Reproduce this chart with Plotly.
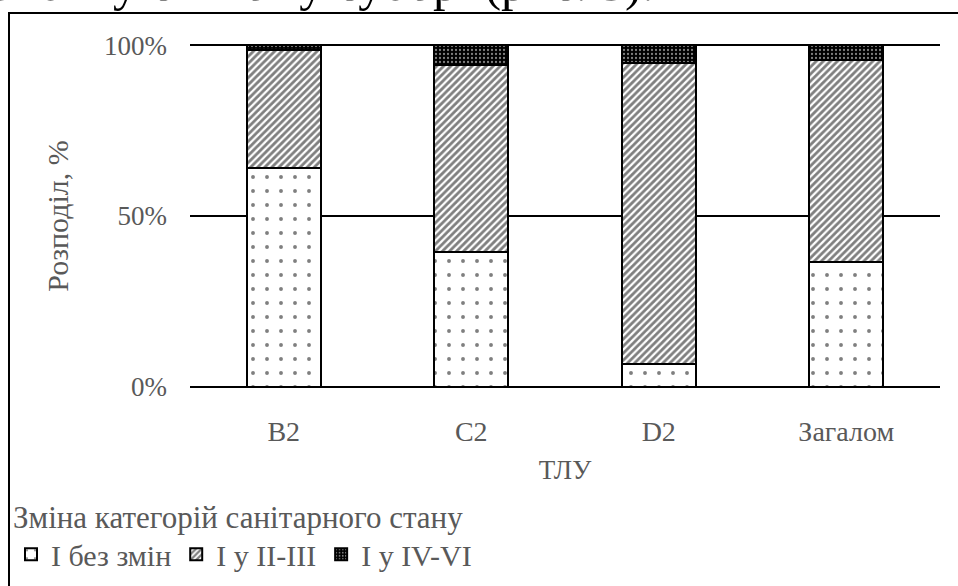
import plotly.graph_objects as go

categories = ["B2", "C2", "D2", "Загалом"]
no_change = [0.642, 0.395, 0.067, 0.366]
to_2_3 = [0.343, 0.547, 0.881, 0.590]
to_4_6 = [0.015, 0.058, 0.052, 0.044]
series_names = ["I без змін", "I у II-III", "I у IV-VI"]

L, R, T, B = 190, 18, 44, 198
W, H = 958, 586
pw, ph = W - L - R, H - T - B

def px_x(x):
    return (x - L) / pw

def px_y(y):
    return (H - B - y) / ph

serif = "Liberation Serif"
gray = "#595959"

fig = go.Figure()
fig.add_bar(x=categories, y=no_change, name=series_names[0],
            marker=dict(color="white", line=dict(color="black", width=2),
                        pattern=dict(shape=".", fgcolor="black", bgcolor="white",
                                     size=14, solidity=0.06)))
fig.add_bar(x=categories, y=to_2_3, name=series_names[1],
            marker=dict(color="white", line=dict(color="black", width=2),
                        pattern=dict(shape="/", fgcolor="black", bgcolor="white",
                                     size=5, solidity=0.55)))
fig.add_bar(x=categories, y=to_4_6, name=series_names[2],
            marker=dict(color="black", line=dict(color="black", width=2),
                        pattern=dict(shape=".", fgcolor="white", bgcolor="black",
                                     size=4, solidity=0.25)))

fig.update_layout(
    barmode="stack",
    bargap=0.605,
    width=W, height=H,
    margin=dict(l=L, r=R, t=T, b=B, autoexpand=False),
    paper_bgcolor="white", plot_bgcolor="white",
    font=dict(family=serif, size=27, color=gray),
    showlegend=True,
    legend=dict(orientation="h", x=px_x(11), xanchor="left",
                y=px_y(488), yanchor="top",
                font=dict(family=serif, size=30, color=gray),
                title=dict(text="Зміна категорій санітарного стану", side="top",
                           font=dict(family=serif, size=31, color=gray)),
                itemwidth=30, traceorder="normal", bgcolor="rgba(0,0,0,0)",
                tracegroupgap=0),
)

fig.update_yaxes(range=[-0.004, 1.004], tickvals=[0, 0.5, 1], ticktext=["0%", "50%", "100%"],
                 showgrid=True, gridcolor="black", gridwidth=2, zeroline=False,
                 showline=False, ticks="", ticklabelstandoff=22,
                 title=dict(text="Розподіл, %", standoff=26,
                            font=dict(family=serif, size=30, color=gray)),
                 tickfont=dict(family=serif, size=27, color=gray))
fig.update_xaxes(showgrid=False, showline=False, ticks="", ticklabelstandoff=24,
                 title=dict(text="ТЛУ", standoff=14,
                            font=dict(family=serif, size=27, color=gray)),
                 tickfont=dict(family=serif, size=28, color=gray))

fig.add_shape(type="rect", xref="paper", yref="paper",
              x0=px_x(9), x1=px_x(1000), y0=px_y(700), y1=px_y(13),
              line=dict(color="black", width=2), fillcolor="rgba(0,0,0,0)", layer="above")

fig.add_annotation(text="зію – у свіжому суборі (рис. 3).", xref="paper", yref="paper",
                   x=px_x(-10), xanchor="left", y=px_y(-17), yanchor="middle",
                   showarrow=False, font=dict(family=serif, size=50, color="black"))

fig.write_html("out.html", config={"displayModeBar": False},
               post_script="document.body.style.margin='0';")
